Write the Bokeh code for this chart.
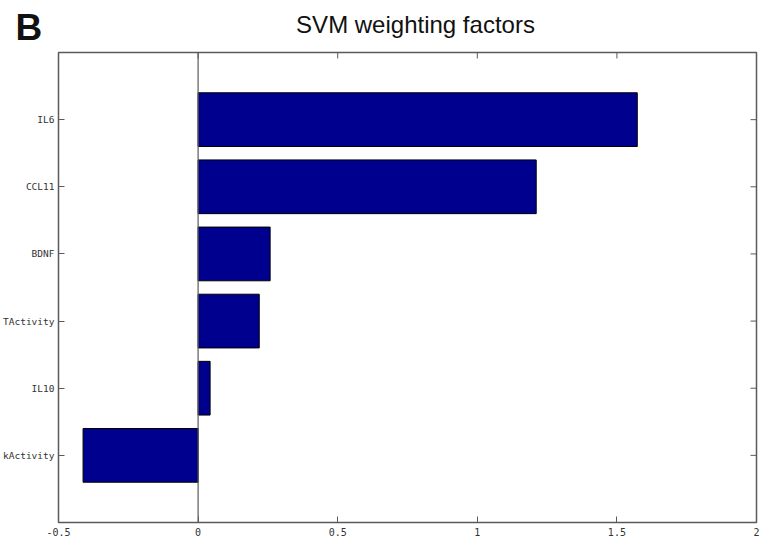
import math
from bokeh.plotting import figure
from bokeh.layouts import column
from bokeh.models import FixedTicker, ColumnDataSource, Span, Range1d
from bokeh.core.properties import value
from bokeh.embed import file_html
from bokeh.resources import INLINE

# SVM weighting factor per feature (bottom to top)
features = ["kActivity", "IL10", "TActivity", "BDNF", "CCL11", "IL6"]
weights = [-0.412, 0.043, 0.219, 0.258, 1.211, 1.573]
x_ticks = [-0.5, 0, 0.5, 1, 1.5, 2]
x_tick_labels = ["-0.5", "0", "0.5", "1", "1.5", "2"]
title_text = "SVM weighting factors"
panel_letter = "B"

positions = list(range(1, len(features) + 1))
src = ColumnDataSource(dict(y=positions, w=weights))

FRAME = "#5a5a5a"
MONO = "DejaVu Sans Mono"
SANS = "Liberation Sans"
X_MIN, X_MAX = x_ticks[0], x_ticks[-1]
Y_MIN, Y_MAX = 0, len(features) + 1

# heading strip: panel letter and title, in pixel coordinates
head = figure(width=760, height=51, output_backend="svg", toolbar_location=None,
              x_range=Range1d(0, 760), y_range=Range1d(51, 0),
              min_border=0, outline_line_color=None, frame_align=False)
head.axis.visible = False
head.grid.visible = False
head.text(x=[415], y=[24], text=[title_text], text_font=value(SANS),
          text_font_size="24px", text_align="center", text_baseline="middle",
          text_color="#111111")
head.text(x=[15], y=[27], text=[panel_letter], text_font=value(SANS),
          text_font_style="bold", text_font_size="37px", text_align="left",
          text_baseline="middle", text_color="#111111")

p = figure(width=760, height=494, output_backend="svg", toolbar_location=None,
           x_range=(X_MIN, X_MAX), y_range=(Y_MIN, Y_MAX),
           min_border_left=58, min_border_right=4, min_border_top=1,
           min_border_bottom=23, frame_align=False)
p.xgrid.visible = False
p.ygrid.visible = False
p.outline_line_color = FRAME
p.outline_line_width = 1.5

p.hbar(y="y", right="w", left=0, height=0.8, source=src,
       fill_color="#00008F", line_color="black", line_width=1)

# baseline at zero
p.add_layout(Span(location=0, dimension="height", line_color=FRAME, line_width=1.2))

# inward ticks along the top and right edges of the box
p.ray(x=x_ticks, y=[Y_MAX] * len(x_ticks), length=6, length_units="screen",
      angle=-math.pi / 2, line_color=FRAME, line_width=1)
p.ray(x=[X_MAX] * len(positions), y=positions, length=6, length_units="screen",
      angle=math.pi, line_color=FRAME, line_width=1)

# bottom axis
xa = p.xaxis[0]
xa.ticker = FixedTicker(ticks=x_ticks)
xa.major_label_overrides = {t: s for t, s in zip(x_ticks, x_tick_labels)}
xa.major_tick_in = 6
xa.major_tick_out = 0
xa.minor_tick_line_color = None
xa.axis_line_color = FRAME
xa.major_tick_line_color = FRAME
xa.major_label_text_font = MONO
xa.major_label_text_font_size = "10px"
xa.major_label_text_color = "#333333"
xa.major_label_standoff = 5

# left axis with feature names
ya = p.yaxis[0]
ya.ticker = FixedTicker(ticks=positions)
ya.major_label_overrides = {k: s for k, s in zip(positions, features)}
ya.major_tick_in = 6
ya.major_tick_out = 0
ya.minor_tick_line_color = None
ya.axis_line_color = FRAME
ya.major_tick_line_color = FRAME
ya.major_label_text_font = MONO
ya.major_label_text_font_size = "9.5px"
ya.major_label_text_color = "#333333"
ya.major_label_standoff = 4

layout = column(head, p, spacing=0)
open("out.html", "w").write(file_html(layout, INLINE))
